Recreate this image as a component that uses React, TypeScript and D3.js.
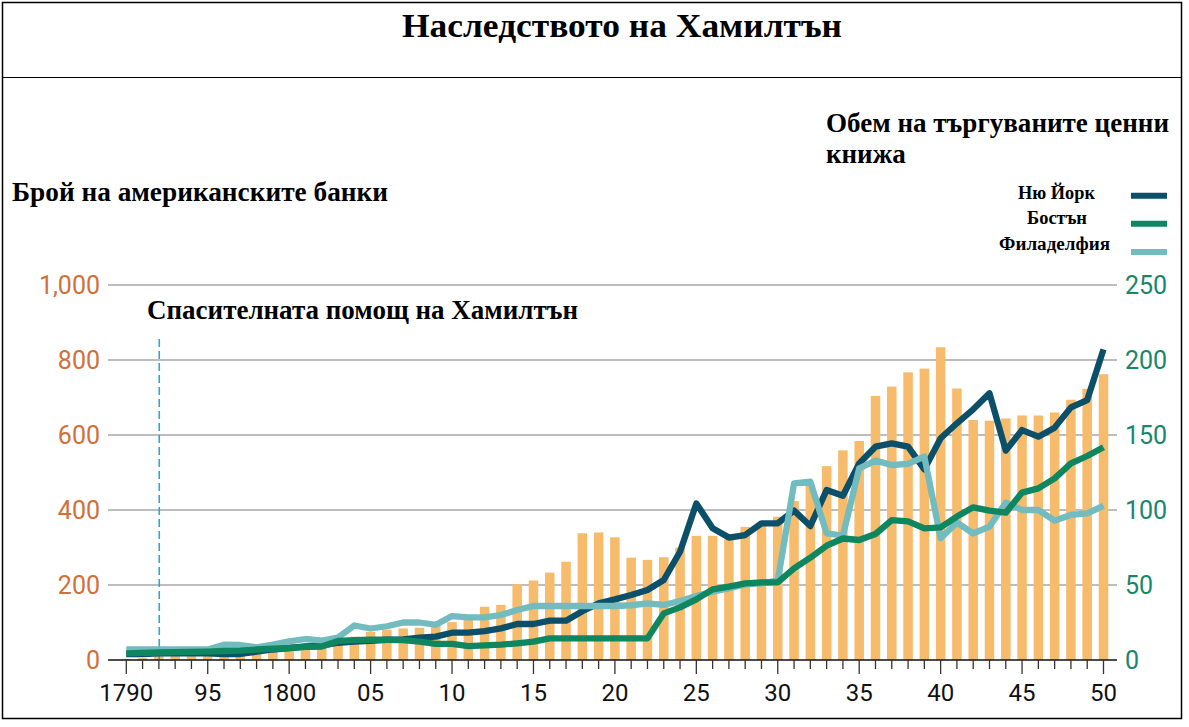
import React from "react";
import * as d3 from "d3";

const years: number[] = d3.range(1790, 1851);

const banks: number[] = [
  3, 5, 16, 17, 17, 20, 22, 24, 25, 26,
  28, 31, 32, 40, 62, 75, 81, 84, 86, 92,
  101, 117, 142, 147, 202, 212, 233, 262, 338, 340,
  327, 273, 267, 274, 300, 331, 331, 325, 355, 365,
  382, 424, 464, 517, 559, 584, 704, 729, 767, 777,
  834, 724, 640, 638, 644, 652, 652, 660, 694, 723,
  762,
];

const newYork: number[] = [
  4, 4, 4.5, 4.5, 4.5, 4.5, 4, 4, 5.5, 7,
  8, 9, 9.5, 11.5, 12.2, 12.8, 13.5, 13.8, 14.9, 15.6,
  18.2, 18.2, 19.3, 21.1, 24, 24, 26.2, 26.2, 32.5, 37.8,
  40.4, 43.3, 46.7, 53.3, 72.2, 104.4, 87.8, 81.6, 83.3, 91.1,
  91.1, 99.6, 89.3, 113.3, 109.5, 131, 142.2, 144.4, 142.2, 127.1,
  147.8, 157.8, 167.1, 177.8, 139.6, 153.3, 148.9, 154.9, 168.4, 173.3,
  207.1,
];

const boston: number[] = [
  4.4, 4.8, 5, 5.3, 5.4, 5.6, 6, 6.3, 7, 7.5,
  8, 8.8, 9, 12.7, 13.3, 13.5, 13.5, 13.3, 12.2, 10.7,
  10.7, 9.3, 9.8, 10.2, 11.1, 12.2, 14.4, 14.4, 14.4, 14.4,
  14.4, 14.4, 14.4, 31.1, 35.1, 40.4, 47.1, 48.9, 51.1, 51.8,
  51.8, 61.1, 68.2, 76.2, 81, 80, 84, 93.3, 92.4, 87.8,
  88.4, 95.6, 101.8, 99.6, 98.2, 111.6, 114.4, 121.1, 131.1, 136,
  141.8,
];

const philadelphia: number[] = [
  7, 7, 7, 7, 7, 7, 10.2, 10, 8.5, 10.2,
  12.4, 14, 12.9, 15, 23, 21, 22.5, 25, 25, 23.5,
  29.3, 28.4, 28.4, 30, 33.3, 36, 36, 36, 36, 36,
  36, 36.5, 37.8, 36.7, 39.3, 42.7, 45.6, 47.8, 50.4, 51.1,
  53, 117.8, 118.9, 84.4, 83, 127.8, 132.9, 130, 130.7, 135.6,
  81.1, 91.6, 84.4, 88.9, 104.9, 100, 100, 92.9, 96.7, 97.8,
  102.7,
];

const leftTicks: number[] = [0, 200, 400, 600, 800, 1000];
const rightTicks: number[] = [0, 50, 100, 150, 200, 250];
const xTickLabels: { year: number; label: string }[] = [
  { year: 1790, label: "1790" },
  { year: 1795, label: "95" },
  { year: 1800, label: "1800" },
  { year: 1805, label: "05" },
  { year: 1810, label: "10" },
  { year: 1815, label: "15" },
  { year: 1820, label: "20" },
  { year: 1825, label: "25" },
  { year: 1830, label: "30" },
  { year: 1835, label: "35" },
  { year: 1840, label: "40" },
  { year: 1845, label: "45" },
  { year: 1850, label: "50" },
];

const series = [
  { name: "Ню Йорк", values: newYork, color: "#0b4f69" },
  { name: "Бостън", values: boston, color: "#0e8760" },
  { name: "Филаделфия", values: philadelphia, color: "#72bbbe" },
];
const drawOrder = [0, 2, 1];

const W = 1189;
const H = 727;
const SERIF = "'Liberation Serif', 'Times New Roman', serif";
const SANS = "Roboto, 'Open Sans', sans-serif";

export default function App() {
  const x = d3.scaleLinear().domain([1790, 1850]).range([126.3, 1103.5]);
  const yL = d3.scaleLinear().domain([0, 1000]).range([660, 285]);
  const yR = d3.scaleLinear().domain([0, 250]).range([660, 285]);
  const gridX0 = 108;
  const gridX1 = 1117;
  const barW = 9.5;

  const line = (vals: number[]) =>
    d3
      .line<number>()
      .x((_, i) => x(years[i]))
      .y((v) => yR(v))(vals) || "";

  const legendPos = [
    { tx: 1018, tw: 77, ty: 199, cy: 195.7 },
    { tx: 1027, tw: 60, ty: 224, cy: 223.7 },
    { tx: 999, tw: 111, ty: 250, cy: 252 },
  ];

  return (
    <svg
      width={W}
      height={H}
      style={{ position: "absolute", left: 0, top: 0, background: "#fff" }}
    >
      <rect x={0} y={0} width={W} height={H} fill="#fff" />
      <rect x={2.5} y={2.5} width={1179} height={716} fill="none" stroke="#000" strokeWidth={1.5} />
      <line x1={2.5} x2={1181.5} y1={77.5} y2={77.5} stroke="#000" strokeWidth={1.2} />

      <text
        x={622}
        y={37}
        textAnchor="middle"
        fontFamily={SERIF}
        fontWeight="bold"
        fontSize={34}
        textLength={440}
        lengthAdjust="spacingAndGlyphs"
      >
        Наследството на Хамилтън
      </text>

      <text
        x={12}
        y={201}
        fontFamily={SERIF}
        fontWeight="bold"
        fontSize={27}
        textLength={376}
        lengthAdjust="spacingAndGlyphs"
      >
        Брой на американските банки
      </text>
      <text
        x={826}
        y={132}
        fontFamily={SERIF}
        fontWeight="bold"
        fontSize={27}
        textLength={343}
        lengthAdjust="spacingAndGlyphs"
      >
        Обем на търгуваните ценни
      </text>
      <text x={826} y={163} fontFamily={SERIF} fontWeight="bold" fontSize={27}>
        книжа
      </text>

      {/* legend */}
      {series.map((s, i) => {
        const p = legendPos[i];
        return (
          <g key={s.name}>
            <text
              x={p.tx}
              y={p.ty}
              fontFamily={SERIF}
              fontWeight="bold"
              fontSize={18}
              textLength={p.tw}
              lengthAdjust="spacingAndGlyphs"
            >
              {s.name}
            </text>
            <line x1={1131} x2={1167} y1={p.cy} y2={p.cy} stroke={s.color} strokeWidth={6} />
          </g>
        );
      })}

      {/* gridlines */}
      {leftTicks.slice(1).map((t) => (
        <line
          key={t}
          x1={gridX0}
          x2={gridX1}
          y1={yL(t)}
          y2={yL(t)}
          stroke="#bdbdbf"
          strokeWidth={2.2}
        />
      ))}

      {/* left axis labels */}
      {leftTicks.map((t) => (
        <text
          key={t}
          x={100}
          y={yL(t)}
          dy="0.36em"
          textAnchor="end"
          fontFamily={SANS}
          fontSize={25}
          fill="#d0703a"
        >
          {d3.format(",")(t)}
        </text>
      ))}

      {/* right axis labels */}
      {rightTicks.map((t) => (
        <text
          key={t}
          x={1125}
          y={yR(t)}
          dy="0.36em"
          textAnchor="start"
          fontFamily={SANS}
          fontSize={25}
          fill="#17876a"
        >
          {t}
        </text>
      ))}

      {/* bars */}
      {banks.map((v, i) => (
        <rect
          key={years[i]}
          x={x(years[i]) - barW / 2}
          y={yL(v)}
          width={barW}
          height={yL(0) - yL(v)}
          fill="#f6bb6b"
        />
      ))}

      {/* annotation */}
      <line
        x1={x(1792) + 0.4}
        x2={x(1792) + 0.4}
        y1={339}
        y2={yL(0)}
        stroke="#2aa6cf"
        strokeWidth={1.6}
        strokeDasharray="8,4"
      />
      <text
        x={147}
        y={319}
        fontFamily={SERIF}
        fontWeight="bold"
        fontSize={27}
        textLength={431}
        lengthAdjust="spacingAndGlyphs"
      >
        Спасителната помощ на Хамилтън
      </text>

      {/* lines */}
      {drawOrder.map((k) => (
        <path
          key={series[k].name}
          d={line(series[k].values)}
          fill="none"
          stroke={series[k].color}
          strokeWidth={6.3}
          strokeLinejoin="round"
        />
      ))}

      {/* x axis */}
      <line x1={gridX0} x2={gridX1} y1={yL(0)} y2={yL(0)} stroke="#111" strokeWidth={1.5} />
      {years.map((yr) => (
        <line
          key={yr}
          x1={x(yr)}
          x2={x(yr)}
          y1={yL(0)}
          y2={yL(0) + ((yr - 1790) % 5 === 0 ? 14 : 9)}
          stroke="#333"
          strokeWidth={1.3}
        />
      ))}
      {xTickLabels.map((t) => (
        <text
          key={t.year}
          x={x(t.year)}
          y={701}
          textAnchor="middle"
          fontFamily={SANS}
          fontSize={24}
          fill="#111"
        >
          {t.label}
        </text>
      ))}
    </svg>
  );
}
